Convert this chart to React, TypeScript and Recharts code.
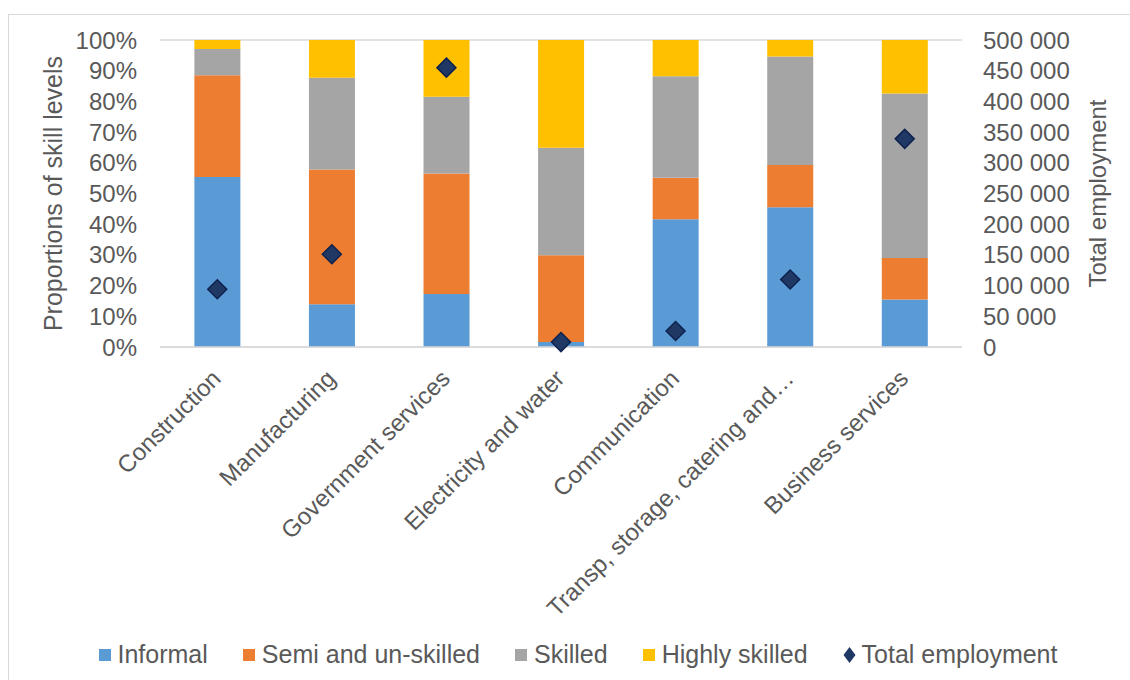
import React from "react";
import {
  ComposedChart,
  Bar,
  Line,
  XAxis,
  YAxis,
  CartesianGrid,
  Legend,
} from "recharts";

const sectors = [
  "Construction",
  "Manufacturing",
  "Government services",
  "Electricity and water",
  "Communication",
  "Transp, storage, catering and\u2026",
  "Business services",
];

// shares of each skill level, in percent
const informal = [55.4, 13.9, 17.3, 1.6, 41.6, 45.5, 15.5];
const semiSkilled = [33.1, 43.9, 39.2, 28.3, 13.5, 13.8, 13.5];
const skilled = [8.6, 29.9, 25.0, 35.0, 33.1, 35.3, 53.6];
const highlySkilled = [2.9, 12.3, 18.5, 35.1, 11.8, 5.4, 17.4];

const totalEmployment = [94000, 151000, 455000, 8000, 26000, 110000, 339000];

const pctTicks = [0, 10, 20, 30, 40, 50, 60, 70, 80, 90, 100];
const empTicks = [0, 50000, 100000, 150000, 200000, 250000, 300000, 350000, 400000, 450000, 500000];

const COLORS = {
  informal: "#5B9BD5",
  semi: "#ED7D31",
  skilled: "#A5A5A5",
  highly: "#FFC000",
  total: "#1F3864",
};

const FONT = "'Liberation Sans', Arial, sans-serif";
const TEXT = "#595959";

const data = sectors.map((name, i) => ({
  name,
  informal: informal[i],
  semi: semiSkilled[i],
  skilled: skilled[i],
  highly: highlySkilled[i],
  total: totalEmployment[i],
}));

const fmtThousands = (v: number) =>
  v === 0 ? "0" : String(v).replace(/\B(?=(\d{3})+(?!\d))/g, " ");

function SectorTick({ x, y, payload }: any) {
  const ax = x + 5;
  const ay = y + 33;
  return (
    <text
      x={ax}
      y={ay}
      transform={`rotate(-45, ${ax}, ${ay})`}
      textAnchor="end"
      fill={TEXT}
      fontSize={24}
      fontFamily={FONT}
    >
      {payload.value}
    </text>
  );
}

function Diamond({ cx, cy }: any) {
  if (cx == null || cy == null) return null;
  const r = 9.5;
  return (
    <polygon
      points={`${cx},${cy - r} ${cx + r},${cy} ${cx},${cy + r} ${cx - r},${cy}`}
      fill={COLORS.total}
      stroke="#0E2250"
      strokeWidth={1.5}
    />
  );
}

const legendItems = [
  { label: "Informal", color: COLORS.informal, kind: "square" },
  { label: "Semi and un-skilled", color: COLORS.semi, kind: "square" },
  { label: "Skilled", color: COLORS.skilled, kind: "square" },
  { label: "Highly skilled", color: COLORS.highly, kind: "square" },
  { label: "Total employment", color: COLORS.total, kind: "diamond" },
];

function LegendContent() {
  return (
    <div
      style={{
        position: "relative",
        top: 10,
        display: "flex",
        justifyContent: "center",
        alignItems: "center",
        gap: 35,
        fontFamily: FONT,
        fontSize: 25,
        color: TEXT,
        paddingLeft: 26,
      }}
    >
      {legendItems.map((it) => (
        <div key={it.label} style={{ display: "flex", alignItems: "center" }}>
          <svg width={13} height={16} style={{ marginRight: 6 }}>
            {it.kind === "square" ? (
              <rect x={0} y={2} width={12} height={12} fill={it.color} />
            ) : (
              <polygon points="6.5,0 12.5,8 6.5,16 0.5,8" fill={it.color} />
            )}
          </svg>
          <span>{it.label}</span>
        </div>
      ))}
    </div>
  );
}

export default function App() {
  return (
    <div style={{ position: "fixed", left: 0, top: 0, width: 1130, height: 680, background: "#fff" }}>
      <div
        style={{
          position: "absolute",
          left: 8,
          top: 14,
          width: 1140,
          height: 700,
          border: "1px solid #D9D9D9",
        }}
      />
      <div style={{ position: "absolute", left: 0, top: 0 }}>
        <ComposedChart
          width={1130}
          height={680}
          data={data}
          margin={{ top: 40, right: 0, bottom: 0, left: 0 }}
          barCategoryGap="30%"
        >
          <CartesianGrid vertical={false} stroke="#D9D9D9" strokeWidth={1.3} />
          <XAxis
            dataKey="name"
            interval={0}
            height={283}
            tickLine={false}
            tickSize={0}
            tickMargin={0}
            axisLine={{ stroke: "#D9D9D9", strokeWidth: 1.3 }}
            tick={<SectorTick />}
          />
          <YAxis
            yAxisId="pct"
            width={160}
            domain={[0, 100]}
            ticks={pctTicks}
            interval={0}
            axisLine={false}
            tickLine={false}
            tickSize={0}
            tickMargin={23}
            tickFormatter={(v) => `${v}%`}
            tick={{ fill: TEXT, fontSize: 24, fontFamily: FONT }}
            label={{
              value: "Proportions of skill levels",
              angle: -90,
              position: "insideLeft",
              offset: 0,
              dx: 53,
              style: { fill: TEXT, fontSize: 25, fontFamily: FONT, textAnchor: "middle" },
            }}
          />
          <YAxis
            yAxisId="emp"
            orientation="right"
            width={168}
            domain={[0, 500000]}
            ticks={empTicks}
            interval={0}
            axisLine={false}
            tickLine={false}
            tickSize={0}
            tickMargin={21}
            tickFormatter={fmtThousands}
            tick={{ fill: TEXT, fontSize: 24, fontFamily: FONT, textAnchor: "start" }}
            label={{
              value: "Total employment",
              angle: -90,
              position: "insideRight",
              offset: 0,
              dx: -33,
              style: { fill: TEXT, fontSize: 24, fontFamily: FONT, textAnchor: "middle" },
            }}
          />
          <Legend verticalAlign="bottom" height={50} content={<LegendContent />} />
          <Bar yAxisId="pct" dataKey="informal" stackId="s" fill={COLORS.informal} isAnimationActive={false} />
          <Bar yAxisId="pct" dataKey="semi" stackId="s" fill={COLORS.semi} isAnimationActive={false} />
          <Bar yAxisId="pct" dataKey="skilled" stackId="s" fill={COLORS.skilled} isAnimationActive={false} />
          <Bar yAxisId="pct" dataKey="highly" stackId="s" fill={COLORS.highly} isAnimationActive={false} />
          <Line
            yAxisId="emp"
            dataKey="total"
            stroke="none"
            dot={<Diamond />}
            activeDot={false}
            isAnimationActive={false}
          />
        </ComposedChart>
      </div>
    </div>
  );
}
